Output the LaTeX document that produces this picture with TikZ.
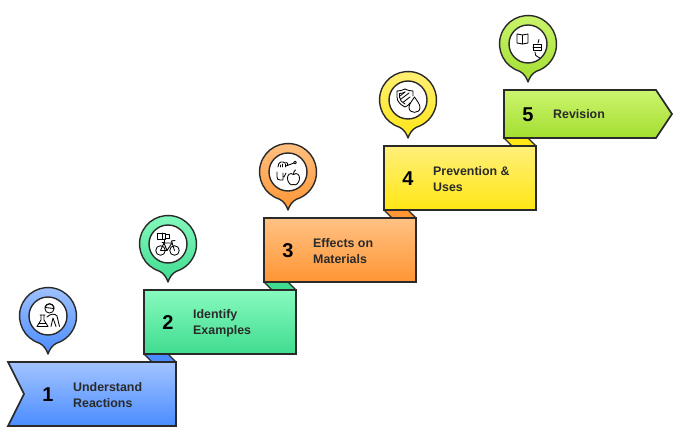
\documentclass[tikz,border=0pt]{standalone}
\usepackage{fontspec}
\setmainfont{Liberation Sans}
\definecolor{bluet}{HTML}{A3C4FF}\definecolor{blueb}{HTML}{4A8CFF}
\definecolor{greent}{HTML}{88FABF}\definecolor{greenb}{HTML}{3FDC8F}
\definecolor{oranget}{HTML}{FFC285}\definecolor{orangeb}{HTML}{FF9533}
\definecolor{yellowt}{HTML}{FFF07A}\definecolor{yellowb}{HTML}{FFE614}
\definecolor{limet}{HTML}{CCF56E}\definecolor{limeb}{HTML}{A3DE30}
\definecolor{ink}{HTML}{2A2A2A}
\tikzset{
  x=1pt,y=-1pt,
  boxline/.style={draw=ink,line width=1.7pt,line join=miter},
  foldline/.style={draw=ink,line width=1.3pt,line join=round},
  pinline/.style={draw=ink,line width=1.4pt,line join=round},
  icon/.style={draw=black,line width=0.85pt,line cap=round,line join=round},
  num/.style={font=\bfseries\fontsize{20}{22}\selectfont,text=black,inner sep=0pt,anchor=center},
  lab/.style={font=\bfseries\fontsize{12.4}{16}\selectfont,text=ink,inner sep=0pt,anchor=west,align=left},
}
\begin{document}
\begin{tikzpicture}
\useasboundingbox (0,0) rectangle (680,438);
% folds
\path[foldline,fill=blueb] (144,354) -- (152,362) -- (176,362) -- (168,354) -- cycle;
\path[foldline,fill=greenb] (264,282) -- (272,290) -- (296,290) -- (288,282) -- cycle;
\path[foldline,fill=orangeb] (384,210) -- (392,218) -- (416,218) -- (408,210) -- cycle;
\path[foldline,fill=yellowb] (504,138) -- (512,146) -- (536,146) -- (528,138) -- cycle;
% boxes
\path[boxline,top color=bluet,bottom color=blueb] (8,362) -- (176,362) -- (176,426) -- (8,426) -- (24,394) -- cycle;
\path[boxline,top color=greent,bottom color=greenb] (144,290) rectangle (296,354);
\path[boxline,top color=oranget,bottom color=orangeb] (264,218) rectangle (416,282);
\path[boxline,top color=yellowt,bottom color=yellowb] (384,146) rectangle (536,210);
\path[boxline,top color=limet,bottom color=limeb] (504,90) -- (656,90) -- (672,114) -- (656,138) -- (504,138) -- cycle;
% texts
\node[num] (n1) at (48,394.5) {1};
\node[num] (n2) at (168,322.5) {2};
\node[num] (n3) at (288,250.5) {3};
\node[num] (n4) at (408,178.5) {4};
\node[num] (n5) at (528,114.5) {5};
\node[lab] (t1) at (73,395) {Understand\\Reactions};
\node[lab] (t2) at (193,323) {Identify\\Examples};
\node[lab] (t3) at (313,251) {Effects on\\Materials};
\node[lab] (t4) at (433,179) {Prevention \&\\Uses};
\node[lab] (t5) at (553,114.5) {Revision};
% pins
\foreach \nm/\cx/\cy/\cc in {p1/48/316/blue,p2/168/244/green,p3/288/172/orange,p4/408/100/yellow,p5/528/44/lime}{
  \begin{scope}[shift={(\cx,\cy)}]
    \path[pinline,top color=\cc t,bottom color=\cc b]
      (0,38) .. controls (-1.5,33.5) and (-4,29.5) .. (-8.5,27.2) arc[start angle=107.4,delta angle=325.2,radius=28.5]
      .. controls (4,29.5) and (1.5,33.5) .. (0,38) -- cycle;
    \node[circle,draw=ink,line width=1.4pt,fill=white,minimum size=38pt,inner sep=0pt] (\nm) at (0,0) {};
  \end{scope}
}
% icon 1: scientist with flask
\begin{scope}[shift={(48,316)},icon]
  \draw (1.5,-7.5) circle[radius=4.6];
  \draw (-3,-9) .. controls (-1,-13.5) and (4,-13.5) .. (6,-9);
  \draw (-3,-8.5) -- (6,-7.5);
  \draw (-8,-1) -- (-3,-1) (-7,-1) -- (-7,4) -- (-11,10.5) -- (0,10.5) -- (-4,4) -- (-4,-1);
  \draw (-9,7) -- (-2,7);
  \draw (-1,1) .. controls (2,-2) and (7,-3) .. (9,0) -- (11.5,10.5);
  \draw (3,10.5) -- (5,2) -- (8,10.5);
\end{scope}
% icon 2: battery and bicycle
\begin{scope}[shift={(168,244)},icon]
  \draw (-11,-11) rectangle (-3,-5);
  \draw (-3,-10) rectangle (1,-6);
  \draw (-5.5,-11) -- (-5.5,-5);
  \draw (-7.5,6.5) circle[radius=4.8] (6.5,6.5) circle[radius=4.8];
  \draw (-7.5,6.5) -- (-4,-1) -- (4,-1) -- (-1,6.5) -- (-7.5,6.5);
  \draw (-4,-1) -- (-1,6.5);
  \draw (6.5,6.5) -- (3.5,-3) -- (7,-3.5);
  \draw (-6,-2) -- (-3,-2);
  \draw (-3.5,-5) -- (-3.5,-1);
\end{scope}
% icon 3: honey dipper, hand, apple
\begin{scope}[shift={(288,172)},icon]
  \draw (-10,-5) .. controls (-10,-11) and (-5,-11) .. (-3,-9)
        .. controls (0,-11) and (1,-6) .. (-2,-6) -- (6,-9);
  \draw (7,-9.5) circle[radius=1.4];
  \draw (-8,-5) -- (-8,-7) (-5.5,-5) -- (-5.5,-8) (-3,-5) -- (-3,-8);
  \draw (-11,0) -- (-11,5) .. controls (-11,7) and (-10,8) .. (-8,8) -- (-5,8) -- (-5,1) (-4,5) -- (-2,1);
  \draw (5.5,2.5) .. controls (2,0) and (-1,3) .. (-0.5,7) .. controls (0,11) and (3,14) .. (5.5,12.5)
        .. controls (8,14) and (11,11) .. (11.5,7) .. controls (12,3) and (9,0) .. (5.5,2.5);
  \draw (5.5,2.5) .. controls (5.5,0.5) and (6,-1) .. (7.5,-2);
\end{scope}
% icon 4: shield and drop
\begin{scope}[shift={(408,100)},icon]
  \draw (-3,-11) .. controls (-6,-9.5) and (-8,-9) .. (-11,-9) -- (-11,-3)
        .. controls (-11,2) and (-7,5) .. (-3,7) .. controls (-1,6) and (1,5) .. (2,3);
  \draw (-3,-11) .. controls (0,-9.5) and (2,-9) .. (5,-9) -- (5,-4);
  \draw (-3,-8) .. controls (-5,-7) and (-6.5,-6.5) .. (-8.5,-6.5) -- (-8.5,-3)
        .. controls (-8.5,0) and (-6,2.5) .. (-3,4);
  \draw (-7,-1) -- (1,-7) (-4.5,2) -- (2,-3) (-8,-4) -- (-3,-8);
  \draw (6.5,-3) .. controls (4,1) and (1,4) .. (1,7.5) .. controls (1,14) and (12,14) .. (12,7.5) .. controls (12,4) and (9,1) .. (6.5,-3) -- cycle;
\end{scope}
% icon 5: book and monitor
\begin{scope}[shift={(528,44)},icon]
  \draw (-11,-10) -- (-5.5,-9) -- (-5.5,0) -- (-11,-1) -- cycle;
  \draw (-5.5,-9) -- (0,-10) -- (0,-1) -- (-5.5,0);
  \draw (5,0) -- (13,0) -- (13,6.5) -- (5,6.5) -- cycle;
  \draw (5,3.5) -- (13,3.5);
  \draw (10,-1) -- (11,-4.5);
  \draw (7,8) .. controls (6.5,11) and (8,12) .. (10,13) -- (12,14);
\end{scope}
\end{tikzpicture}
\end{document}
